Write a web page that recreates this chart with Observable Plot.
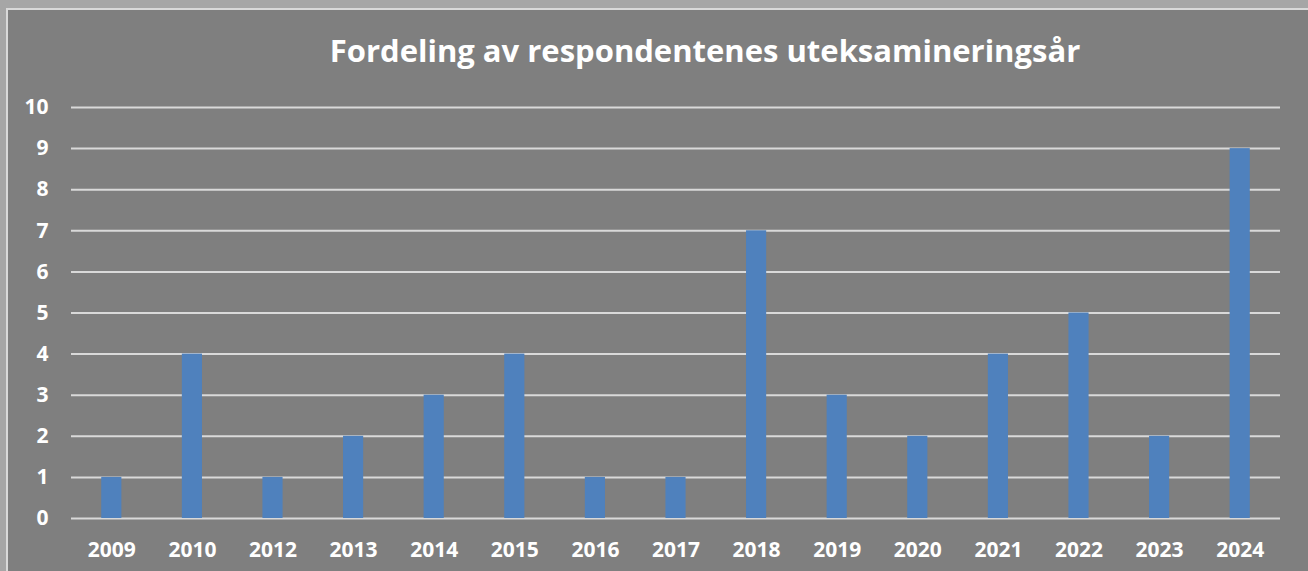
<!DOCTYPE html>
<html>
<head>
<meta charset="utf-8">
<script src="https://cdn.jsdelivr.net/npm/d3@7"></script>
<script src="https://cdn.jsdelivr.net/npm/@observablehq/plot@0.6"></script>
<style>
  html, body { margin: 0; padding: 0; background: #a6a6a6; width: 1308px; height: 571px; overflow: hidden; }
  #frame { position: absolute; left: 6px; top: 8px; width: 1302px; height: 563px; background: #7f7f7f;
           border-left: 2px solid #d9d9d9; border-top: 2px solid #d9d9d9; box-sizing: border-box; }
  #title { position: absolute; left: 0; top: 25px; width: 1394px; text-align: center; color: #fff;
           font-family: "Open Sans", sans-serif; font-weight: bold; font-size: 31px; line-height: 31px; white-space: nowrap; }
  #chart { position: absolute; left: 0px; top: 78px; }
  svg text { font-family: "Open Sans", sans-serif; font-weight: bold; }
</style>
</head>
<body>
<div id="frame">
  <div id="title">Fordeling av respondentenes uteksamineringsår</div>
  <div id="chart"></div>
</div>
<script>
const years = ["2009","2010","2012","2013","2014","2015","2016","2017","2018","2019","2020","2021","2022","2023","2024"];
const counts = [1, 4, 1, 2, 3, 4, 1, 1, 7, 3, 2, 4, 5, 2, 9];
const yTicks = [0,1,2,3,4,5,6,7,8,9,10];

const data = years.map((y, i) => ({year: y, count: counts[i]}));

const plot = Plot.plot({
  width: 1300,
  height: 483,
  marginTop: 19,
  marginBottom: 53,
  marginLeft: 63,
  marginRight: 28,
  style: {background: "transparent", color: "#ffffff", fontSize: "21px", fontFamily: "Open Sans, sans-serif"},
  x: {domain: years, paddingInner: 0.75, paddingOuter: 0.375, align: 0.5, round: false, label: null},
  y: {domain: [0, 10], label: null, ticks: yTicks},
  marks: [
    Plot.ruleY(yTicks, {stroke: "#d9d9d9", strokeWidth: 2}),
    Plot.barY(data, {x: "year", y: "count", fill: "#4f81bd"}),
    Plot.axisX({tickSize: 0, tickPadding: 24, fontSize: 21, fontWeight: "bold", fill: "#ffffff", label: null}),
    Plot.axisY({ticks: yTicks, tickSize: 0, tickPadding: 23, fontSize: 21, fontWeight: "bold", fill: "#ffffff", label: null})
  ]
});
document.getElementById("chart").appendChild(plot);
</script>
</body>
</html>
